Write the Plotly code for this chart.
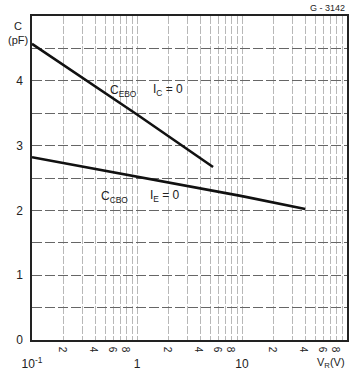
import plotly.graph_objects as go

# Data
vr_cebo = [0.1, 1.0, 5.3]
c_cebo = [4.57, 3.48, 2.67]
vr_ccbo = [0.1, 1.0, 10.0, 40.0]
c_ccbo = [2.82, 2.52, 2.22, 2.02]

x_minor_mult = [1, 2, 3, 4, 5, 6, 7, 8, 9]
x_decades = [0.1, 1, 10]
x_major_vals = [0.1, 1, 10]
x_major_text = ["10<sup>-1</sup>", "1", "10"]
y_vals = [0, 0.5, 1, 1.5, 2, 2.5, 3, 3.5, 4, 4.5, 5]
y_text = ["0", " ", "1", " ", "2", " ", "3", " ", "4", " ", " "]

FONT = "Liberation Sans"

minor_vals, minor_text = [], []
for d in x_decades:
    for m in x_minor_mult:
        minor_vals.append(m * d)
        minor_text.append(str(m) if m in (2, 4, 6, 8) else " ")
minor_vals.append(100)
minor_text.append(" ")

fig = go.Figure()
fig.add_trace(go.Scatter(x=vr_cebo, y=c_cebo, mode="lines",
                         line=dict(color="#111", width=2.6), showlegend=False))
fig.add_trace(go.Scatter(x=vr_ccbo, y=c_ccbo, mode="lines",
                         line=dict(color="#111", width=2.6), showlegend=False))
fig.add_trace(go.Scatter(x=[0.1, 100], y=[None, None], xaxis="x2",
                         mode="lines", showlegend=False, hoverinfo="skip"))

fig.update_layout(
    width=351, height=374,
    margin=dict(l=32, r=4, t=16, b=34),
    paper_bgcolor="white", plot_bgcolor="white",
    font=dict(family=FONT, size=11, color="#222"),
    xaxis=dict(type="log", range=[-1, 2], tickmode="array",
               tickvals=minor_vals, ticktext=minor_text,
               showgrid=True, gridcolor="#b8b8b8", gridwidth=1,
               griddash="8px,2px", automargin=False,
               showline=True, mirror=True, linecolor="#222", linewidth=1.5,
               ticks="", ticklabelstandoff=-2, zeroline=False,
               tickfont=dict(size=10)),
    xaxis2=dict(type="log", range=[-1, 2], overlaying="x", side="bottom",
                anchor="y", tickmode="array", tickvals=x_major_vals,
                ticktext=x_major_text, showgrid=False, showline=False,
                ticks="", ticklabelstandoff=15, zeroline=False,
                automargin=False, tickfont=dict(size=12)),
    yaxis=dict(range=[0, 5], tickmode="array", tickvals=y_vals,
               ticktext=y_text, showgrid=True, gridcolor="#666",
               gridwidth=1, griddash="10px,3px", automargin=False,
               showline=True, mirror=True, linecolor="#222", linewidth=1.5,
               ticks="", ticklabelstandoff=5, zeroline=False,
               tickfont=dict(size=12)),
    annotations=[
        dict(text="C<br>(pF)", xref="paper", yref="paper", x=-0.045, y=0.995,
             xanchor="center", yanchor="top", showarrow=False,
             font=dict(size=11), align="center"),
        dict(text="G - 3142", xref="paper", yref="paper", x=1.0, y=1.0,
             xanchor="right", yanchor="bottom", yshift=1, showarrow=False,
             font=dict(size=9)),
        dict(text="V<sub>R</sub>(V)", xref="paper", yref="paper", x=1.0,
             y=0, xanchor="right", yanchor="top", yshift=-14, showarrow=False,
             font=dict(size=11)),
        dict(text="C<sub>EBO</sub>", xref="x", yref="y", x=-0.28, y=3.84,
             xanchor="left", yanchor="middle", showarrow=False,
             font=dict(size=12)),
        dict(text="I<sub>C</sub> = 0", xref="x", yref="y", x=0.13, y=3.86,
             xanchor="left", yanchor="middle", showarrow=False,
             font=dict(size=12)),
        dict(text="C<sub>CBO</sub>", xref="x", yref="y", x=-0.36, y=2.2,
             xanchor="left", yanchor="middle", showarrow=False,
             font=dict(size=12)),
        dict(text="I<sub>E</sub> = 0", xref="x", yref="y", x=0.1, y=2.22,
             xanchor="left", yanchor="middle", showarrow=False,
             font=dict(size=12)),
    ],
)

fig.write_html("out.html",
               config={"displayModeBar": False},
               post_script="document.body.style.margin='0';"
                           "document.body.style.overflow='hidden';")
